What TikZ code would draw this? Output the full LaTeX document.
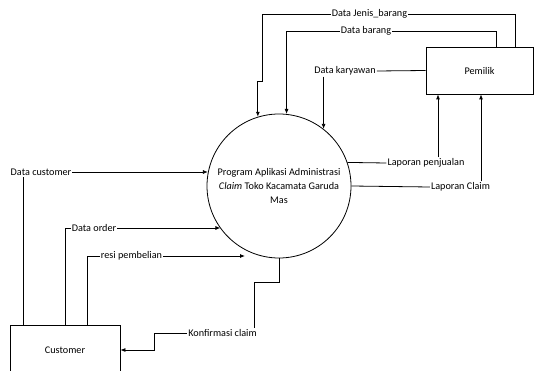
\documentclass[tikz,border=0pt]{standalone}
\usepackage{fontspec}
\setmainfont{Carlito}
\usetikzlibrary{arrows.meta, calc}
\tikzset{
	entitynode/.style={
			shape=rectangle,
			draw=black,
			line width=0.8pt,
			minimum width=107pt,
			minimum height=47pt,
			inner sep=0pt,
			font=\fontsize{10.2}{12}\selectfont
		},
	processnode/.style={
			shape=circle,
			draw=black,
			line width=0.8pt,
			minimum size=144pt,
			inner sep=0pt,
			align=center,
			font=\fontsize{10.2}{14}\selectfont
		},
	flowlabel/.style={
			inner sep=1pt,
			font=\fontsize{10.2}{12}\selectfont
		},
	flowline/.style={
			draw=black,
			line width=0.8pt
		},
	flowarrow/.style={
			flowline,
			-{Latex[length=5pt,width=4pt]}
		}
}

\begin{document}
\begin{tikzpicture}[x=1pt, y=-1pt]

              \useasboundingbox (0,0) rectangle (535,371);
              \clip (0,0) rectangle (535,371);

              \node[processnode] (proses) at (279,186) {Program Aplikasi Administrasi\\\textit{Claim} Toko Kacamata Garuda\\Mas};
              \node[entitynode] (pemilik) at (479.5,70.5) {Pemilik};
              \node[entitynode, minimum width=110pt, minimum height=50pt] (customer) at (65,350) {Customer};

              \node[flowlabel] (ljenis) at (369.5,14) {Data Jenis\_barang};
              \node[flowlabel] (lbarang) at (366,31) {Data barang};
              \node[flowlabel] (lkaryawan) at (345,71) {Data karyawan};
              \node[flowlabel] (lpenjualan) at (426,163) {Laporan penjualan};
              \node[flowlabel] (lclaim) at (460.5,187) {Laporan Claim};
              \node[flowlabel] (lcustomer) at (41,172) {Data customer};
              \node[flowlabel] (lorder) at (94,228) {Data order};
              \node[flowlabel] (lresi) at (131.5,256) {resi pembelian};
              \node[flowlabel] (lkonfirmasi) at (222.5,333) {Konfirmasi claim};

              \coordinate (resiend) at (245,256);

              % Pemilik -> proses
              \draw[flowline] (pemilik.north -| 515,0) |- (ljenis.east);
              \draw[flowarrow] (ljenis.west) -| (262,81) -| (proses.107);
              \draw[flowline] (pemilik.north -| 496,0) |- (lbarang.east);
              \draw[flowarrow] (lbarang.west) -| (proses.84);
              \draw[flowline] (pemilik.west) -- (lkaryawan.east);
              \draw[flowarrow] (lkaryawan.south -| proses.52) -- (proses.52);

              % proses -> Pemilik
              \draw[flowline] (proses.19) -- (lpenjualan.west);
              \draw[flowarrow] (lpenjualan.north -| 438,0) -- (pemilik.south -| 438,0);
              \draw[flowline] (proses.east) -- (lclaim.west);
              \draw[flowarrow] (lclaim.north -| 481,0) -- (pemilik.south -| 481,0);

              % Customer -> proses
              \draw[flowline] (customer.north -| 23,0) -- (lcustomer.south -| 23,0);
              \draw[flowarrow] (lcustomer.east) -- (lcustomer.east -| proses.169);
              \draw[flowline] (customer.north -| 65,0) |- (lorder.west);
              \draw[flowarrow] (lorder.east) -- (lorder.east -| proses.216);
              \draw[flowline] (customer.north -| 87,0) |- (lresi.west);
              \draw[flowarrow] (lresi.east) -- (resiend);

              % proses -> Customer
              \draw[flowline] (proses.south) |- (254,282) -- (lkonfirmasi.north -| 254,0);
              \draw[flowarrow] (lkonfirmasi.west) -- (lkonfirmasi.west -| 154,0) |- (customer.east);

            \end{tikzpicture}
\end{document}
